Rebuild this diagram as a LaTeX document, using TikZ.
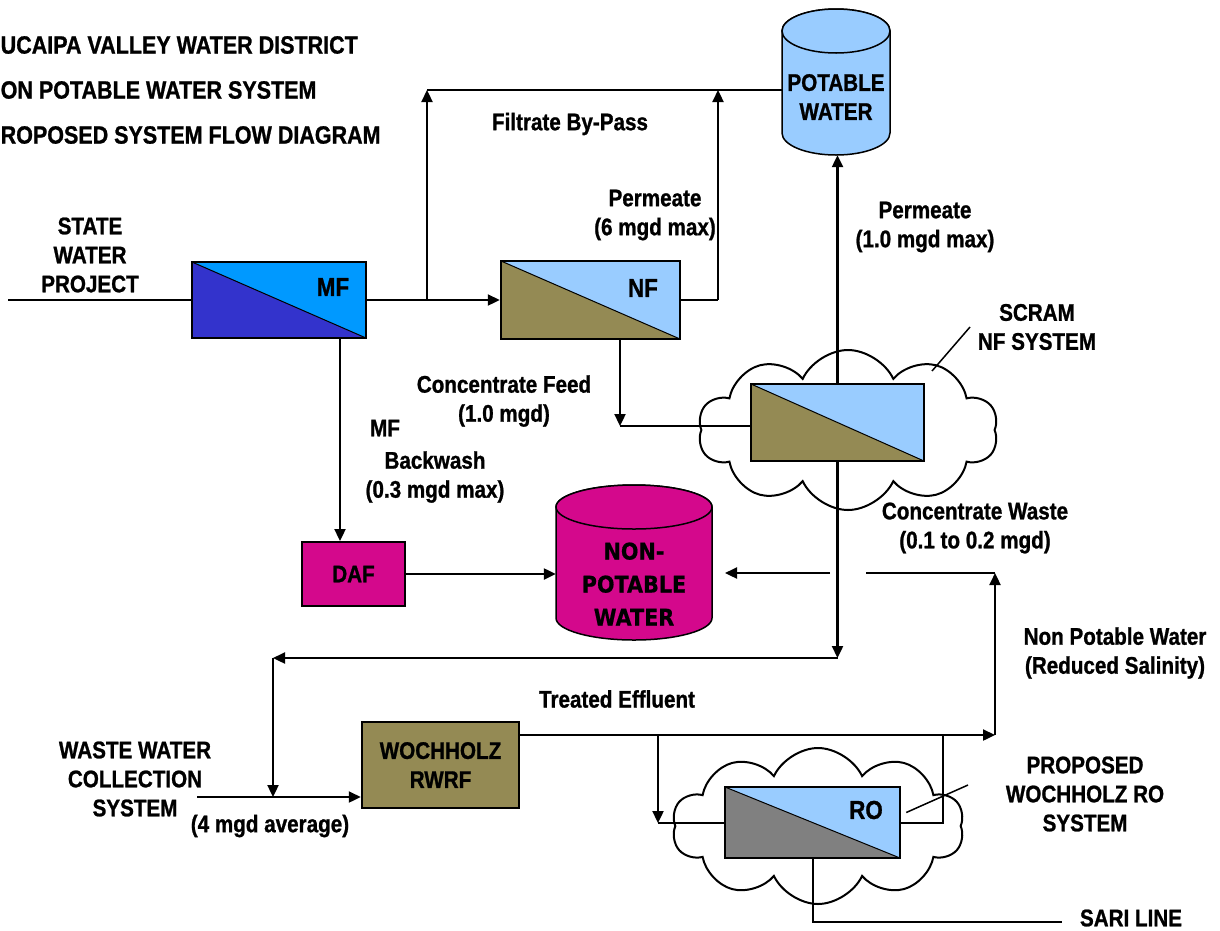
\documentclass[tikz,border=0pt]{standalone}
\usepackage{fontspec}
\setmainfont[FakeStretch=0.86, BoldFeatures={FakeBold=1}]{Liberation Sans}
\newfontfamily\tahoma[FakeStretch=0.9, BoldFeatures={FakeBold=0.6}]{DejaVu Sans}
\usetikzlibrary{shapes.symbols,arrows.meta}
\definecolor{colMFdark}{RGB}{51,51,204}
\definecolor{colMFlight}{RGB}{0,153,255}
\definecolor{colLight}{RGB}{153,204,255}
\definecolor{colOlive}{RGB}{148,138,84}
\definecolor{colGray}{RGB}{128,128,128}
\definecolor{colMag}{RGB}{212,8,140}
\tikzset{
  every node/.style={font=\bfseries\fontsize{24}{29}\selectfont, align=center, inner sep=0pt},
  conn/.style={line width=2.3pt},
  arr/.style={conn, -{Triangle[length=12pt,width=11pt]}},
  lead/.style={line width=1.5pt},
  memb/.style n args={2}{draw, line width=2.5pt, fill=#2,
    path picture={\fill[#1] (path picture bounding box.north west) -- (path picture bounding box.south east) -- (path picture bounding box.south west) -- cycle;
      \draw[line width=1pt] (path picture bounding box.north west) -- (path picture bounding box.south east);}},
  boxlbl/.style={font=\bfseries\fontsize{26}{30}\selectfont},
  titlefont/.style={font=\bfseries\fontsize{25}{30}\selectfont},
  cloudy/.style={cloud, cloud puffs=10, cloud puff arc=130, cloud ignores aspect, draw, fill=white, line width=2pt},
  tank/.style={fill=#1, draw, line width=1.5pt},
}
\begin{document}
\begin{tikzpicture}[x=1pt,y=-1pt]
\useasboundingbox (0,0) rectangle (1220,930);
\fill[white] (0,0) rectangle (1220,930);

% titles
\node[titlefont, anchor=west] (t1) at (0.5,45) {UCAIPA VALLEY WATER DISTRICT};
\node[titlefont, anchor=west] (t2) at (0.5,90) {ON POTABLE WATER SYSTEM};
\node[titlefont, anchor=west] (t3) at (0.5,135) {ROPOSED SYSTEM FLOW DIAGRAM};

% clouds
\node[cloudy, minimum width=300pt, minimum height=160pt] (cl1) at (848,430) {};
\node[cloudy, minimum width=292pt, minimum height=156pt] (cl2) at (818,826) {};

% membrane units
\node[memb={colMFdark}{colMFlight}, minimum width=174pt, minimum height=76pt] (mf) at (279,300) {};
\node[boxlbl] (mfl) at (333,287) {MF};
\node[memb={colOlive}{colLight}, minimum width=179pt, minimum height=78pt] (nf) at (590.5,300) {};
\node[boxlbl] (nfl) at (643,288) {NF};
\node[memb={colOlive}{colLight}, minimum width=173pt, minimum height=77pt] (scram) at (837.5,422.5) {};
\node[memb={colGray}{colLight}, minimum width=175pt, minimum height=71pt] (ro) at (812.5,822.5) {};
\node[boxlbl] (rol) at (866,810) {RO};

% boxes
\node[draw, fill=colMag, line width=2pt, minimum width=103pt, minimum height=64pt, font=\bfseries\fontsize{24}{28}\selectfont] (daf) at (353.5,574) {DAF};
\node[draw, fill=colOlive, line width=2.5pt, minimum width=157pt, minimum height=86pt] (wrwf) at (440.5,765) {WOCHHOLZ\\RWRF};

% potable water tank
\path[tank=colLight] (782,31) -- (782,133) arc[start angle=180, end angle=360, x radius=54pt, y radius=22pt] -- (890,31) arc[start angle=0, end angle=180, x radius=54pt, y radius=22pt] -- cycle;
\draw[tank=colLight] (836,31) ellipse [x radius=54pt, y radius=22pt];
\node[minimum width=108pt, minimum height=146pt] (potable) at (836,82) {};
\node (potl) at (836,97) {POTABLE\\WATER};

% non-potable water tank
\path[tank=colMag] (556,507) -- (556,618) arc[start angle=180, end angle=360, x radius=78pt, y radius=22pt] -- (712,507) arc[start angle=0, end angle=180, x radius=78pt, y radius=22pt] -- cycle;
\draw[tank=colMag] (634,507) ellipse [x radius=78pt, y radius=22pt];
\node[minimum width=156pt, minimum height=156pt] (npw) at (634,562) {};
\node[font=\tahoma\bfseries\fontsize{23}{33}\selectfont] (npwl) at (634,584) {NON-\\POTABLE\\WATER};

% coordinates
\coordinate (swp) at (8,300);
\coordinate (j1) at (427,300);
\coordinate (tp1) at (427,90);
\coordinate (p1) at (718,300);
\coordinate (p2) at (718,90);
\coordinate (cf) at (620,426);
\coordinate (d1) at (837.5,658);
\coordinate (d2) at (273,658);
\coordinate (d3) at (273,797);
\coordinate (ww) at (197,797);
\coordinate (te1) at (995,735);
\coordinate (te2) at (995,573);
\coordinate (te3) at (866,573);
\coordinate (cw1) at (830,573);
\coordinate (cw2) at (725,573);
\coordinate (b1) at (658,735);
\coordinate (b2) at (658,823);
\coordinate (r1) at (943,823);
\coordinate (r2) at (943,735);
\coordinate (rl) at (968,785);
\coordinate (s1) at (813,922);
\coordinate (s2) at (1062,922);
\coordinate (bwx) at (340,574);
\coordinate (sl1) at (932,371);
\coordinate (sl2) at (970,327);

% connectors
\draw[conn] (swp) -- (mf.west);
\draw[arr] (mf.east) -- (nf.west);
\draw[arr] (j1) -- (tp1);
\draw[conn] (tp1) -- (tp1 -| potable.west);
\draw[conn] (nf.east) -- (p1);
\draw[arr] (p1) -- (p2);
\draw[arr] (nf.south -| cf) -- (cf);
\draw[conn] (cf) -- (scram.west |- cf);
\draw[arr] (scram.north) -- (scram.north |- potable.south);
\draw[arr] (scram.south) -- (d1);
\draw[arr] (d1) -- (d2);
\draw[arr] (d2) -- (d3);
\draw[arr] (ww) -- (wrwf.west |- ww);
\draw[arr] (wrwf.east |- te1) -- (te1);
\draw[arr] (te1) -- (te2);
\draw[conn] (te2) -- (te3);
\draw[arr] (cw1) -- (cw2);
\draw[arr] (b1) -- (b2);
\draw[conn] (b2) -- (ro.west |- b2);
\draw[conn] (ro.east |- r1) -- (r1) -- (r2);
\draw[lead] ([xshift=5pt,yshift=10pt]ro.east) -- (rl);
\draw[conn] (ro.south -| s1) -- (s1) -- (s2);
\draw[arr] (mf.south -| bwx) -- (daf.north -| bwx);
\draw[arr] (daf.east) -- (daf.east -| npw.west);
\draw[lead] (sl1) -- (sl2);

% labels
\node (lswp) at (90,255) {STATE\\WATER\\PROJECT};
\node (lbyp) at (570,124) {Filtrate By-Pass};
\node (lperm1) at (655,215) {Permeate\\(6 mgd max)};
\node (lperm2) at (925,227) {Permeate\\(1.0 mgd max)};
\node (lscram) at (1037,327) {SCRAM\\NF SYSTEM};
\node (lcf) at (504,401) {Concentrate Feed\\(1.0 mgd)};
\node (lmf) at (385,428) {MF};
\node (lbw) at (435,477) {Backwash\\(0.3 mgd max)};
\node (lcw) at (975,528) {Concentrate Waste\\(0.1 to 0.2 mgd)};
\node (lnpw) at (1115,653) {Non Potable Water\\(Reduced Salinity)};
\node (lte) at (617,699) {Treated Effluent};
\node (lwwc) at (135,779) {WASTE WATER\\COLLECTION\\SYSTEM};
\node (l4m) at (270,826) {(4 mgd average)};
\node (lro) at (1085,794) {PROPOSED\\WOCHHOLZ RO\\SYSTEM};
\node (lsari) at (1131,918) {SARI LINE};
\end{tikzpicture}
\end{document}
